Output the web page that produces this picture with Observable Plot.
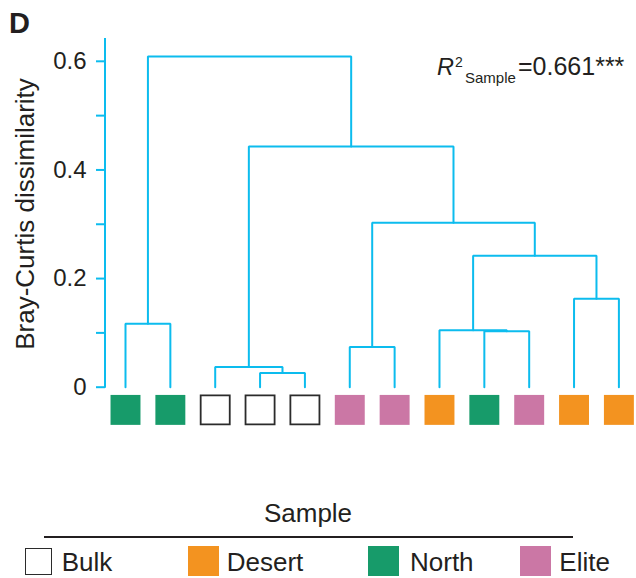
<!DOCTYPE html>
<html>
<head>
<meta charset="utf-8">
<script src="https://cdn.jsdelivr.net/npm/d3@7"></script>
<script src="https://cdn.jsdelivr.net/npm/@observablehq/plot@0.6"></script>
<style>
  body { margin: 0; background: #fff; }
  #fig { position: relative; width: 636px; height: 578px; font-family: "Liberation Sans", Arial, Helvetica, sans-serif; color: #231f20; }
  #fig svg { display: block; }
  .legend { position: absolute; left: 0; top: 490px; width: 636px; height: 88px; }
  .legend .title { position: absolute; left: 0; width: 616px; text-align: center; top: 8px; font-size: 26px; line-height: 30px; }
  .legend .rule { position: absolute; left: 44px; width: 529px; top: 45.5px; height: 2.5px; background: #231f20; }
  .legend .key { position: absolute; box-sizing: border-box; }
  .legend .lab { position: absolute; font-size: 26px; line-height: 30px; top: 57px; }
</style>
</head>
<body>
<div id="fig"></div>
<script>
// Leaves of the dendrogram, left to right, with their sample group
const leafGroups = ["North", "North", "Bulk", "Bulk", "Bulk", "Elite", "Elite", "Desert", "North", "Elite", "Desert", "Desert"];

// Agglomeration steps: ids 0-11 are leaves, step k creates node 12 + k
const mergeA = [3, 2, 5, 8, 7, 0, 10, 16, 14, 13, 17];
const mergeB = [4, 12, 6, 9, 15, 1, 11, 18, 19, 20, 21];
const mergeHeight = [0.026, 0.037, 0.074, 0.103, 0.105, 0.117, 0.163, 0.242, 0.303, 0.443, 0.609];

// Sample groups and their colours
const groupNames = ["Bulk", "Desert", "North", "Elite"];
const groupColors = ["#ffffff", "#F39320", "#179B6A", "#CB77A5"];

// Axis ticks
const yTicks = [0, 0.1, 0.2, 0.3, 0.4, 0.5, 0.6];
const yTickLabels = ["0", "", "0.2", "", "0.4", "", "0.6"];

const r2Value = "0.661";
const r2Stars = "***";

const branchColor = "#0CBCEE";
const textColor = "#231f20";
const font = '"Liberation Sans", Arial, Helvetica, sans-serif';

// Node positions: leaves sit at their index, merged nodes at the midpoint of their children
const nodeX = leafGroups.map((_, i) => i);
const nodeH = leafGroups.map(() => 0);
mergeA.forEach((a, k) => {
  const b = mergeB[k];
  nodeX.push((nodeX[a] + nodeX[b]) / 2);
  nodeH.push(mergeHeight[k]);
});

// Each merge is drawn as a ⊓-shaped path
const branches = [];
mergeA.forEach((a, k) => {
  const b = mergeB[k], h = mergeHeight[k];
  branches.push({k, x: nodeX[a], y: nodeH[a]});
  branches.push({k, x: nodeX[a], y: h});
  branches.push({k, x: nodeX[b], y: h});
  branches.push({k, x: nodeX[b], y: nodeH[b]});
});

const leaves = leafGroups.map((group, i) => ({i, group, y: 0}));

const plot = Plot.plot({
  width: 636,
  height: 490,
  marginTop: 38,
  marginBottom: 103.3,
  marginLeft: 105,
  marginRight: 17.6,
  style: {fontFamily: font, color: textColor, background: "transparent", overflow: "visible"},
  x: {domain: [0, leafGroups.length - 1], range: [125, 618.4], axis: null},
  y: {domain: [0, 0.642], axis: null},
  color: {domain: groupNames, range: groupColors},
  marks: [
    Plot.axisY({
      ticks: yTicks,
      tickSize: 9,
      tickPadding: 10,
      tickFormat: (d) => yTickLabels[yTicks.indexOf(d)],
      stroke: branchColor,
      strokeWidth: 2,
      fill: textColor,
      fontSize: 24,
      label: null
    }),
    Plot.line(branches, {x: "x", y: "y", z: "k", stroke: branchColor, strokeWidth: 2, strokeLinejoin: "miter"}),
    Plot.dot(leaves.filter(d => d.group !== "Bulk"), {
      x: "i", y: "y", dy: 22.7, symbol: "square", r: 16.9, fill: "group", stroke: null
    }),
    Plot.dot(leaves.filter(d => d.group === "Bulk"), {
      x: "i", y: "y", dy: 22.7, symbol: "square", r: 16.4, fill: "group", stroke: "#2b2b2b", strokeWidth: 1.8
    })
  ]
});

const fig = document.getElementById("fig");
fig.appendChild(plot);

// Overlay: axis line, panel letter, axis title and statistic
const svg = d3.select(plot);
const y = plot.scale("y");
svg.append("line")
  .attr("x1", 105).attr("x2", 105)
  .attr("y1", y.apply(y.domain[1])).attr("y2", y.apply(0) + 1)
  .attr("stroke", branchColor).attr("stroke-width", 2);

svg.append("text")
  .attr("x", 9).attr("y", 33)
  .attr("text-anchor", "start")
  .attr("font-family", font).attr("font-weight", "bold").attr("font-size", 29)
  .attr("fill", textColor)
  .text("D");

svg.append("text")
  .attr("transform", "translate(34,214) rotate(-90)")
  .attr("text-anchor", "middle")
  .attr("font-family", font).attr("font-size", 26)
  .attr("fill", textColor)
  .text("Bray-Curtis dissimilarity");

const stat = svg.append("text")
  .attr("text-anchor", "start")
  .attr("font-family", font).attr("fill", textColor);
stat.append("tspan").attr("x", 437).attr("y", 75).attr("font-size", 23.5).attr("font-style", "italic").text("R");
stat.append("tspan").attr("x", 455).attr("y", 67).attr("font-size", 14).text("2");
stat.append("tspan").attr("x", 465).attr("y", 83.3).attr("font-size", 15).text("Sample");
stat.append("tspan").attr("x", 518).attr("y", 75).attr("font-size", 25).text("=" + r2Value + r2Stars);

// Legend below the chart
const legend = d3.select(fig).append("div").attr("class", "legend");
legend.append("div").attr("class", "title").text("Sample");
legend.append("div").attr("class", "rule");
const keyLeft = [25, 188.3, 368.3, 520];
const labLeft = [61.7, 226.7, 410, 559.3];
groupNames.forEach((g, i) => {
  const bulk = g === "Bulk";
  legend.append("div").attr("class", "key")
    .style("left", keyLeft[i] + "px")
    .style("top", (bulk ? 58.3 : 56) + "px")
    .style("width", (bulk ? 27 : 30.5) + "px")
    .style("height", (bulk ? 27 : 30) + "px")
    .style("background", groupColors[i])
    .style("border", bulk ? "1.5px solid #2b2b2b" : "none");
  legend.append("div").attr("class", "lab")
    .style("left", labLeft[i] + "px")
    .text(g);
});
</script>
</body>
</html>
